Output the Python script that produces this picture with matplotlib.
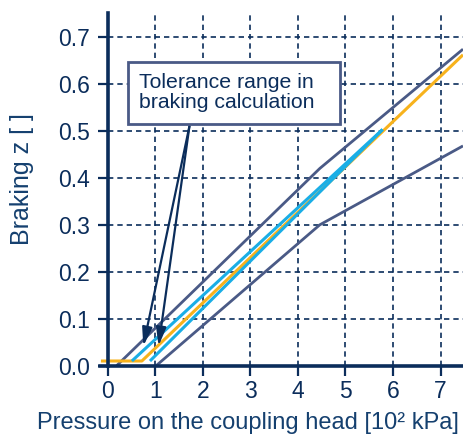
import matplotlib
matplotlib.use("Agg")
import matplotlib.pyplot as plt
from matplotlib.patches import Rectangle

plt.rcParams['font.family'] = ['Liberation Sans', 'DejaVu Sans']

# Data
upper_x = [0.19, 4.46, 7.47]
upper_z = [0.0, 0.42, 0.674]
lower_x = [1.02, 4.46, 7.47]
lower_z = [0.0, 0.30, 0.468]
orange_x = [-0.14, 0.72, 7.47]
orange_z = [0.01, 0.01, 0.662]
blue_left_x = [0.51, 5.78]
blue_left_z = [0.01, 0.503]
blue_right_x = [0.89, 5.78]
blue_right_z = [0.01, 0.503]

x_ticks = [0, 1, 2, 3, 4, 5, 6, 7]
y_ticks = [0.0, 0.1, 0.2, 0.3, 0.4, 0.5, 0.6, 0.7]
y_ticklabels = ["0.0", "0.1", "0.2", "0.3", "0.4", "0.5", "0.6", "0.7"]

annot_text = "Tolerance range in\nbraking calculation"
arrow_start = (1.72, 0.51)
arrow_tips = [(0.75, 0.042), (1.07, 0.042)]

navy = "#0b2d5b"
slate = "#4a5a86"
orange = "#f7b21c"
blue = "#1aaee6"

fig = plt.figure(figsize=(4.63, 4.38), dpi=100)
ax = fig.add_axes([100/463, 72.3/438, 363/463, 352.7/438])
ax.set_xlim(-0.16, 7.47)
ax.set_ylim(0, 0.751)

# grid
for xv in x_ticks[1:]:
    ax.plot([xv, xv], [0, 0.751], color=navy, lw=1.2, ls=(0, (3.2, 2.4)), zorder=1, clip_on=False)
for yv in y_ticks[1:]:
    ax.plot([0, 7.47], [yv, yv], color=navy, lw=1.2, ls=(0, (3.2, 2.4)), zorder=1)

ax.plot(upper_x, upper_z, color=slate, lw=2.0, zorder=3, solid_capstyle='butt')
ax.plot(lower_x, lower_z, color=slate, lw=2.0, zorder=3, solid_capstyle='butt')
ax.plot(orange_x, orange_z, color=orange, lw=2.2, zorder=3, solid_capstyle='butt')
ax.plot(blue_left_x, blue_left_z, color=blue, lw=2.2, zorder=4, solid_capstyle='butt')
ax.plot(blue_right_x, blue_right_z, color=blue, lw=2.2, zorder=4, solid_capstyle='butt')

for tip in arrow_tips:
    ax.annotate("", xy=tip, xytext=arrow_start,
                arrowprops=dict(arrowstyle="-|>,head_length=1.1,head_width=0.3",
                                color=navy, lw=1.6, shrinkA=0, shrinkB=0),
                zorder=6)

ax.add_patch(Rectangle((0.424, 0.514), 4.885 - 0.424, 0.647 - 0.514,
                       fc='white', ec=slate, lw=2.0, zorder=7))
ax.text(0.668, 0.582, annot_text, fontsize=15.3, color=navy, ha='left', va='center',
        linespacing=1.05, zorder=8)

for s in ['top', 'right']:
    ax.spines[s].set_visible(False)
ax.spines['left'].set_position(('data', 0))
ax.spines['left'].set_color(navy)
ax.spines['left'].set_linewidth(2.6)
ax.spines['bottom'].set_color(navy)
ax.spines['bottom'].set_linewidth(2.6)
ax.spines['left'].set_zorder(5)
ax.spines['bottom'].set_zorder(5)

ax.set_xticks(x_ticks)
ax.set_yticks(y_ticks)
ax.set_yticklabels(y_ticklabels)
ax.tick_params(axis='both', direction='out', length=7, width=1.6, color=navy,
               labelcolor=navy, labelsize=16.5)
ax.tick_params(axis='x', pad=3.5)
ax.tick_params(axis='y', pad=6)

ax.set_xlabel("Pressure on the coupling head [10² kPa]", fontsize=17, color="#15406f")
ax.set_ylabel("Braking z [ ]", fontsize=18, color="#15406f")
ax.yaxis.set_label_coords(-0.183, 0.53)
ax.xaxis.set_label_coords(0.408, -0.13)

fig.savefig("out.png", dpi=100)
